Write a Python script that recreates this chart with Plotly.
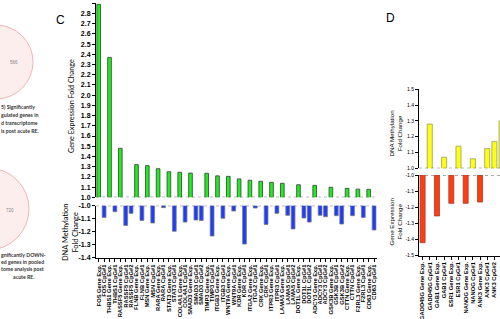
import plotly.graph_objects as go

# ---------------- DATA ----------------
# Panel C categories (x axis tick labels)
c_categories = [
    "FOS Gene Exp.", "FOS CpG#1", "THBS1 Gene Exp.", "THBS1 CpG#1",
    "RASSF5 Gene Exp.", "RASSF5 CpG#1", "RASSF5 CpG#2", "FLNB Gene Exp.", "FLNB CpG#1",
    "MSN Gene Exp.", "MSN CpG#1", "RARA Gene Exp.", "RARA CpG#1",
    "STAT3 Gene Exp.", "STAT3 CpG#1", "COL4A1 Gene Exp.", "COL4A1 CpG#1",
    "SMAD3 Gene Exp.", "SMAD3 CpG#1", "SMAD3 CpG#2", "TIMP3 Gene Exp.", "TIMP3 CpG#1",
    "ITGB3 Gene Exp.", "ITGB3 CpG#1", "WNT9A Gene Exp.", "WNT9A CpG#1",
    "KDR Gene Exp.", "KDR CpG#1", "ITGA2 Gene Exp.", "ITGA2 CpG#1",
    "CRK Gene Exp.", "CRK CpG#1", "ITPR3 Gene Exp.", "ITPR3 CpG#1",
    "LAMA5 Gene Exp.", "LAMA5 CpG#1", "LAMA5 CpG#2", "DOT1L Gene Exp.", "DOT1L CpG#1", "DOT1L CpG#2",
    "ADCY3 Gene Exp.", "ADCY3 CpG#1", "ADCY3 CpG#2", "GSK3B Gene Exp.", "GSK3B CpG#1", "GSK3B CpG#2",
    "CTTN Gene Exp.", "CTTN CpG#1", "F2RL3 Gene Exp.", "F2RL3 CpG#1",
    "CD63 Gene Exp.", "CD63 CpG#1",
]
c_expr_labels = [c for c in c_categories if "Gene Exp." in c]
c_expr_values = [2.89, 2.37, 1.48, 1.32, 1.31, 1.28, 1.25, 1.245, 1.237, 1.235,
                 1.21, 1.205, 1.18, 1.167, 1.157, 1.147, 1.137, 1.123, 1.117,
                 1.098, 1.088, 1.08, 1.078]
c_cpg_labels = [c for c in c_categories if "CpG" in c]
c_cpg_values = [-1.09, -1.046, -1.152, -1.059, -1.113, -1.133, -1.015, -1.197,
                -1.126, -1.110, -1.113, -1.233, -1.097, -1.041, -1.295, -1.018,
                -1.144, -1.059, -1.074, -1.179, -1.095, -1.126, -1.074, -1.085,
                -1.077, -1.141, -1.077, -1.090, -1.187]
c_top_ticks = ["1.0", "1.1", "1.2", "1.3", "1.4", "1.5", "1.6", "1.7", "1.8", "1.9",
               "2.0", "2.1", "2.2", "2.3", "2.4", "2.5", "2.6", "2.7", "2.8", "2.9"]
c_bot_ticks = ["-1.0", "-1.1", "-1.2", "-1.3", "-1.4"]

# Panel D
d_categories = [
    "GADD45G Gene Exp.", "GADD45G CpG#1", "GAB1 Gene Exp.", "GAB1 CpG#1",
    "ESR1 Gene Exp.", "ESR1 CpG#1", "NANOG Gene Exp.", "NANOG CpG#1",
    "ANK3 Gene Exp.", "ANK3 CpG#1", "ANK3 CpG#2", "ANK3 CpG#3",
]
d_meth_labels = [c for c in d_categories if "CpG" in c]
d_meth_values = [1.28, 1.07, 1.14, 1.06, 1.125, 1.17, 1.30]
d_expr_labels = [c for c in d_categories if "Gene Exp." in c]
d_expr_values = [-1.423, -1.256, -1.177, -1.177, -1.169]
d_top_ticks = ["1.0", "1.1", "1.2", "1.3", "1.4", "1.5"]
d_bot_ticks = ["-1.0", "-1.1", "-1.2", "-1.3", "-1.4", "-1.5"]

# ---------------- STYLE / LAYOUT ----------------
W, H = 500, 319
def fx(x): return x / W
def fy(y): return 1 - y / H

GREEN = "#1cf01c"
BLUE = "#1c3cff"
YELLOW = "#ffff14"
RED = "#ff3c12"
AX = "Liberation Sans"
EPS = 0.004

fig = go.Figure()
fig.add_trace(go.Bar(x=c_expr_labels, y=c_expr_values, xaxis="x", yaxis="y", width=0.68,
                     marker=dict(color=GREEN, line=dict(color="#3a3a3a", width=0.8))))
fig.add_trace(go.Bar(x=c_cpg_labels, y=c_cpg_values, xaxis="x2", yaxis="y2", width=0.7,
                     marker=dict(color=BLUE, line=dict(color="#7a7a7a", width=0.8))))
fig.add_trace(go.Bar(x=d_meth_labels, y=d_meth_values, xaxis="x3", yaxis="y3", width=0.7,
                     marker=dict(color=YELLOW, line=dict(color="#9a9a60", width=0.8))))
fig.add_trace(go.Bar(x=d_expr_labels, y=d_expr_values, xaxis="x4", yaxis="y4", width=0.7,
                     marker=dict(color=RED, line=dict(color="#a04030", width=0.8))))

c_xdom = [fx(96), fx(376.8)]
d_xdom = [fx(419), 1.0]
d_range = [-0.5, -0.5 + 81 / 7.18]

yax_common = dict(showline=True, linecolor="black", linewidth=1, ticks="outside",
                  ticklen=3, tickwidth=1, tickcolor="black", showgrid=False,
                  zeroline=False, automargin=False, tickmode="array")

def px_per(lo_px, hi_px, lo_v, hi_v):
    return (lo_px - hi_px) / (hi_v - lo_v)

c_top_s = px_per(197.3, 3.3, 1.0, 2.9)
d_top_s = px_per(168.3, 89.3, 1.0, 1.5)
c_bot_s = px_per(257.7, 205.7, -1.4, -1.0)
d_bot_s = px_per(255, 175, -1.5, -1.0)

layout = dict(
    width=W, height=H, margin=dict(l=0, r=0, t=0, b=0),
    paper_bgcolor="white", plot_bgcolor="white", showlegend=False,
    template="none",
    xaxis=dict(domain=c_xdom, anchor="y", categoryorder="array", categoryarray=c_categories,
               range=[-0.5, len(c_categories) - 0.5], visible=False, automargin=False),
    yaxis=dict(domain=[fy(197.3), fy(3.3 - EPS * c_top_s)], anchor="x", range=[1.0, 2.9 + EPS],
               tickvals=[float(t) for t in c_top_ticks], ticktext=c_top_ticks,
               tickfont=dict(family=AX, size=7, color="black", weight="bold"), **yax_common),
    xaxis2=dict(domain=c_xdom, anchor="y2", categoryorder="array", categoryarray=c_categories,
                range=[-0.5, len(c_categories) - 0.5], showline=True, linecolor="black",
                linewidth=1, ticks="outside", ticklen=3, tickcolor="black", tickangle=-90,
                tickmode="array", tickvals=c_categories, ticktext=c_categories,
                tickfont=dict(family=AX, size=5.8, color="black", weight="bold"),
                showgrid=False, zeroline=False, automargin=False),
    yaxis2=dict(domain=[fy(257.7 + EPS * c_bot_s), fy(205.7)], anchor="x2", range=[-1.4 - EPS, -1.0],
                tickvals=[float(t) for t in c_bot_ticks], ticktext=c_bot_ticks,
                tickfont=dict(family=AX, size=7, color="black", weight="bold"), **yax_common),
    xaxis3=dict(domain=d_xdom, anchor="y3", categoryorder="array", categoryarray=d_categories,
                range=d_range, visible=False, automargin=False),
    yaxis3=dict(domain=[fy(168.3), fy(89.3 - EPS * d_top_s)], anchor="x3", range=[1.0, 1.5 + EPS],
                tickvals=[float(t) for t in d_top_ticks], ticktext=d_top_ticks,
                tickfont=dict(family=AX, size=5, color="black"), **yax_common),
    xaxis4=dict(domain=d_xdom, anchor="y4", categoryorder="array", categoryarray=d_categories,
                range=d_range, showline=True, linecolor="black", linewidth=1,
                ticks="outside", ticklen=3, tickcolor="black", tickangle=-90,
                tickmode="array", tickvals=d_categories, ticktext=d_categories,
                tickfont=dict(family=AX, size=5.8, color="black", weight="bold"),
                showgrid=False, zeroline=False, automargin=False),
    yaxis4=dict(domain=[fy(255 + EPS * d_bot_s), fy(175)], anchor="x4", range=[-1.5 - EPS, -1.0],
                tickvals=[float(t) for t in d_bot_ticks], ticktext=d_bot_ticks,
                tickfont=dict(family=AX, size=5, color="black"), **yax_common),
)
fig.update_layout(**layout)

# dotted baselines
shapes = []
for xr, yr, yv in [("x", "y", 1.0), ("x2", "y2", -1.0), ("x3", "y3", 1.0), ("x4", "y4", -1.0)]:
    shapes.append(dict(type="line", xref=f"{xr} domain", yref=yr, x0=0, x1=1, y0=yv, y1=yv,
                       line=dict(color="#555555", width=1, dash="dot")))
# Venn circles (cropped at left edge)
shapes.append(dict(type="circle", xref="paper", yref="paper", x0=fx(-41), x1=fx(33),
                   y0=fy(99), y1=fy(25), fillcolor="#fdeeee", line=dict(color="#f4b4b4", width=1),
                   layer="below"))
shapes.append(dict(type="circle", xref="paper", yref="paper", x0=fx(-53), x1=fx(29),
                   y0=fy(250), y1=fy(168), fillcolor="#fdeeee", line=dict(color="#f4b4b4", width=1),
                   layer="below"))
fig.update_layout(shapes=shapes)

ann = []
def A(text, x, y, size, family=AX, angle=0, xanchor="center", color="black", bold=False):
    ann.append(dict(text=text, x=fx(x), y=fy(y), xref="paper", yref="paper", showarrow=False,
                    xanchor=xanchor, yanchor="middle", textangle=angle,
                    font=dict(family=family, size=size, color=color,
                              weight="bold" if bold else "normal")))

A("C", 60, 20, 12)
A("D", 390, 18, 12)
A("Gene Expression Fold Change", 71.5, 106.5, 7.2, family="Lato", angle=-90)
A("DNA Methylation<br>Fold Change", 70, 233, 7.4, family="Lato", angle=-90)
A("DNA Methylation<br>Fold Change", 395, 133.5, 6.2, angle=-90)
A("Gene Expression<br>Fold Change", 395, 221.5, 6.2, angle=-90)
A("566", 14, 62, 4.5, color="#888888")
A("720", 10, 210, 4.5, color="#888888")
for t, yy in [("5) Significantly", 107), ("gulated genes in", 115),
              ("d transcriptome", 123), ("is post acute RE.", 131),
              ("gnificantly DOWN-", 255), ("ed genes in pooled", 262),
              ("tome analysis post", 269)]:
    A(t, -1, yy, 5.2, family="Lato", xanchor="left", color="#333333", bold=True)
A("acute RE.", 24, 277, 5.2, family="Lato", color="#333333", bold=True)
fig.update_layout(annotations=ann)

fig.write_html("out.html", config={"displayModeBar": False},
               post_script="document.body.style.margin='0';document.body.style.overflow='hidden';")
